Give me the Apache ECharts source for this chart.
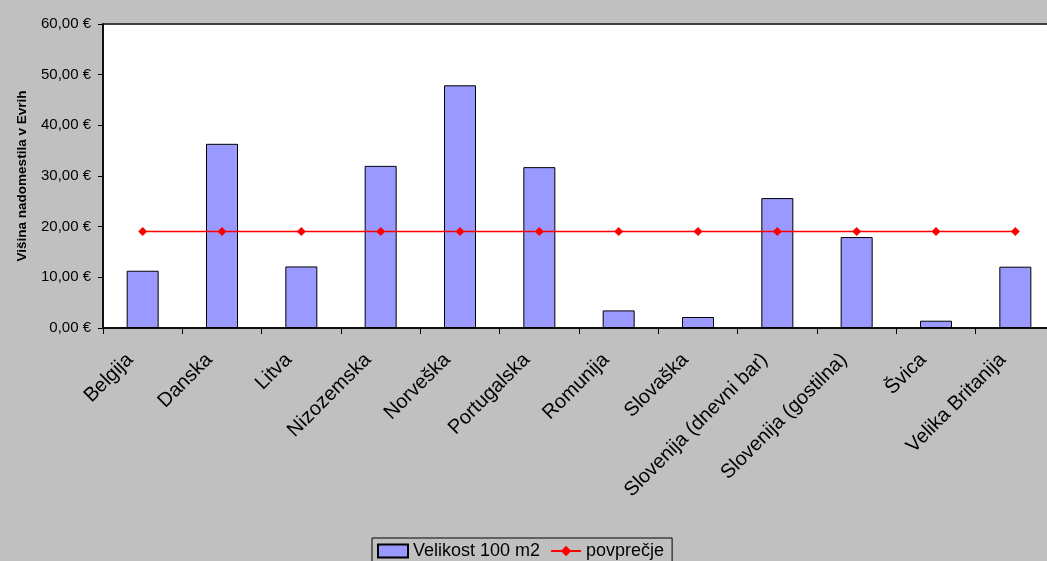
<!DOCTYPE html>
<html>
<head>
<meta charset="utf-8">
<script src="https://cdn.jsdelivr.net/npm/echarts@6/dist/echarts.min.js"></script>
<style>
html,body{margin:0;padding:0;background:#C0C0C0;}
#chart{width:1047px;height:561px;}
</style>
</head>
<body>
<div id="chart"></div>
<script>
const categories = ['Belgija','Danska','Litva','Nizozemska','Norveška','Portugalska','Romunija','Slovaška','Slovenija (dnevni bar)','Slovenija (gostilna)','Švica','Velika Britanija'];
const sizeValues = [11.3, 36.35, 12.15, 32.0, 47.9, 31.75, 3.47, 2.17, 25.64, 17.95, 1.44, 12.1];
const averageValues = [19.05, 19.05, 19.05, 19.05, 19.05, 19.05, 19.05, 19.05, 19.05, 19.05, 19.05, 19.05];
const seriesNames = ['Velikost 100 m2', 'povprečje'];
const yAxisTitle = 'Višina nadomestila v Evrih';

const chart = echarts.init(document.getElementById('chart'), null, {renderer: 'canvas'});
const font = 'Liberation Sans, Arial, sans-serif';
chart.setOption({
  backgroundColor: '#C0C0C0',
  animation: false,
  textStyle: {fontFamily: font, color: '#000'},
  grid: {
    left: 103, width: 952, top: 24, height: 304,
    outerBoundsMode: 'none',
    show: true, backgroundColor: '#FFFFFF', borderColor: '#404040', borderWidth: 2,
    containLabel: false
  },
  legend: {
    left: 372, top: 538,
    data: [{name: seriesNames[0], icon: 'rect'}, {name: seriesNames[1]}],
    itemWidth: 30, itemHeight: 13, itemGap: 10,
    padding: [4, 8, 4, 5],
    borderColor: '#000', borderWidth: 1,
    backgroundColor: '#C0C0C0',
    textStyle: {fontSize: 18, fontFamily: font, color: '#000'}
  },
  xAxis: {
    type: 'category',
    data: categories,
    boundaryGap: true,
    axisLine: {lineStyle: {color: '#000', width: 1.5}},
    axisTick: {show: true, length: 6, lineStyle: {color: '#000'}},
    axisLabel: {rotate: 45, fontSize: 20, color: '#000', margin: 16, interval: 0, fontFamily: font, padding: [0, 18, 0, 0]},
    splitLine: {show: false}
  },
  yAxis: {
    type: 'value',
    min: 0, max: 60, interval: 10,
    name: yAxisTitle,
    nameLocation: 'middle',
    nameGap: 74,
    nameTextStyle: {fontSize: 13.5, fontWeight: 'bold', color: '#000', fontFamily: font},
    axisLine: {show: true, lineStyle: {color: '#000', width: 1.5}},
    axisTick: {show: true, length: 5, lineStyle: {color: '#000'}},
    axisLabel: {
      fontSize: 15, color: '#000', margin: 12, fontFamily: font,
      formatter: v => v.toFixed(2).replace('.', ',') + ' €'
    },
    splitLine: {show: false}
  },
  series: [
    {
      name: seriesNames[0],
      type: 'bar',
      data: sizeValues,
      barWidth: 32,
      itemStyle: {color: '#9999FF', borderColor: '#000', borderWidth: 1}
    },
    {
      name: seriesNames[1],
      type: 'line',
      data: averageValues,
      symbol: 'diamond',
      symbolSize: 9,
      lineStyle: {color: '#FF0000', width: 1.3},
      itemStyle: {color: '#FF0000'}
    }
  ]
});
</script>
</body>
</html>
